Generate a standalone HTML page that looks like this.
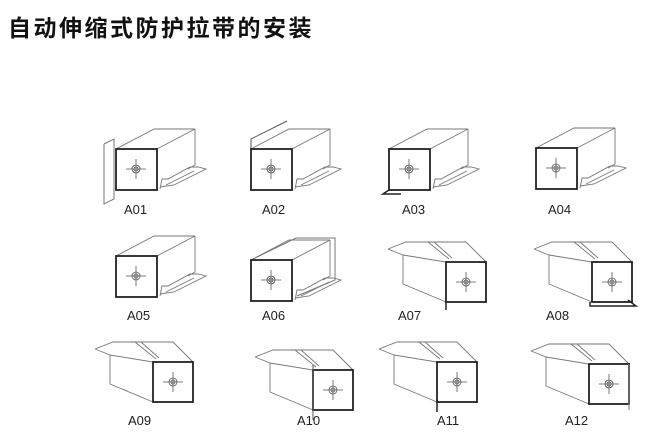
<!DOCTYPE html>
<html><head><meta charset="utf-8"><style>
html,body{margin:0;padding:0;background:#fff;}
body{width:655px;height:436px;overflow:hidden;position:relative;}
h1{position:absolute;left:8px;top:9px;margin:0;font:bold 23px "Liberation Sans","Noto Sans CJK SC",sans-serif;letter-spacing:2.5px;color:#111;}
svg{position:absolute;left:0;top:0;}
text{font-family:"Liberation Sans",sans-serif;font-size:13px;fill:#222;}
</style></head><body>
<h1>自动伸缩式防护拉带的安装</h1>
<svg width="655" height="436" viewBox="0 0 655 436">
<defs>
<g id="cross" stroke="#555" stroke-width="0.8" fill="none">
<line x1="-10" y1="0" x2="10" y2="0"/><line x1="0" y1="-10" x2="0" y2="10"/>
<circle r="4"/><circle r="2"/>
</g>
<g id="R" fill="none" stroke="#777" stroke-width="0.9">
<polyline points="0,0 38,-20 79,-20 41,0"/>
<polyline points="79,-20 79,16 72,20"/>
<polyline points="44,40 46,30 52,30 74,18 82,18 90,20 58,36 44,38"/>
<line x1="50" y1="36" x2="78" y2="22"/>
<rect x="0" y="0" width="41" height="41" fill="#fff" stroke="#222" stroke-width="1.8"/>
<use href="#cross" x="20" y="20"/>
</g>
<g id="L" fill="none" stroke="#777" stroke-width="0.9">
<polygon points="-43,-7 0,0 0,40 -43,22" fill="#fff"/>
<polyline points="-58,-13 -40,-20 20,-20 40,0"/>
<polyline points="-58,-13 -43,-7"/>
<line x1="-18" y1="-20" x2="3" y2="-3"/>
<line x1="-12" y1="-20" x2="6" y2="-4"/>
<rect x="0" y="0" width="40" height="40" fill="#fff" stroke="#222" stroke-width="1.8"/>
<use href="#cross" x="20" y="20"/>
</g>
</defs>
<g transform="translate(116,149)"><polyline points="-12,-5 -2,-10 -2,50 -12,55 -12,-5" fill="none" stroke="#777"/><use href="#R"/></g>
<g transform="translate(251,149)"><polyline points="0,0 0,-10 36,-28" fill="none" stroke="#555"/><use href="#R"/></g>
<g transform="translate(389,149)"><use href="#R"/><polyline points="0,41 -6,45 12,45" fill="none" stroke="#222" stroke-width="1.5"/></g>
<g transform="translate(536,148)"><use href="#R"/></g>
<g transform="translate(116,256)"><use href="#R"/></g>
<g transform="translate(251,260)"><polyline points="0,0 45,-22 84,-22 84,20 46,36" fill="none" stroke="#777"/><use href="#R"/></g>
<g transform="translate(446,262)"><use href="#L"/><polyline points="0,40 0,48" stroke="#222" stroke-width="1.5"/></g>
<g transform="translate(592,262)"><use href="#L"/><polyline points="-2,40 -2,44 44,44 36,38" fill="none" stroke="#222" stroke-width="1.5"/></g>
<g transform="translate(153,362)"><use href="#L"/></g>
<g transform="translate(313,370)"><use href="#L"/><polyline points="0,-5 0,50" stroke="#555"/></g>
<g transform="translate(437,362)"><use href="#L"/><polyline points="0,40 0,50" stroke="#222" stroke-width="1.5"/></g>
<g transform="translate(589,364)"><use href="#L"/><polyline points="40,0 40,46" stroke="#777"/></g>
<text x="124" y="214">A01</text><text x="262" y="214">A02</text><text x="402" y="214">A03</text><text x="548" y="214">A04</text>
<text x="127" y="320">A05</text><text x="262" y="320">A06</text><text x="398" y="320">A07</text><text x="546" y="320">A08</text>
<text x="128" y="425">A09</text><text x="297" y="425">A10</text><text x="437" y="425">A11</text><text x="565" y="425">A12</text>
</svg>
</body></html>
